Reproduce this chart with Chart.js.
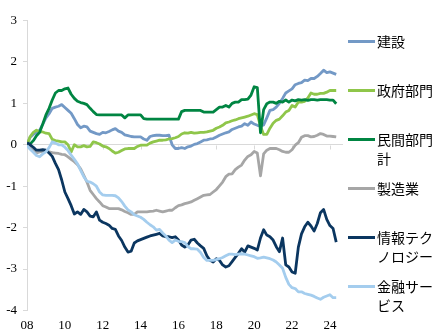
<!DOCTYPE html>
<html><head><meta charset="utf-8">
<script src="https://cdn.jsdelivr.net/npm/chart.js"></script>
<style>
html,body{margin:0;padding:0;background:#fff;}
#wrap{position:relative;width:438px;height:335px;overflow:hidden;}
#c{position:absolute;left:0;top:0;}
.sw{position:absolute;left:348px;width:27px;height:3px;}
.lb{position:absolute;left:377px;font-family:"Noto Sans CJK JP";font-size:14px;line-height:19.5px;white-space:nowrap;color:#000;}
</style></head>
<body><div id="wrap"><canvas id="c" width="438" height="335"></canvas><div id="legend"></div></div>
<script>
const seriesNames = ['建設','政府部門','民間部門計','製造業','情報テクノロジー','金融サービス'];
const legendLines = [['建設'],['政府部門'],['民間部門','計'],['製造業'],['情報テク','ノロジー'],['金融サー','ビス']];
const yTicks = [3,2,1,0,-1,-2,-3,-4];

const construction = [0.00,0.18,0.25,0.30,0.35,0.50,0.65,0.75,0.88,0.91,
 0.93,0.97,0.90,0.83,0.76,0.63,0.49,0.41,0.45,0.43,
 0.33,0.30,0.27,0.25,0.30,0.29,0.32,0.36,0.39,0.33,
 0.30,0.24,0.22,0.20,0.19,0.19,0.19,0.14,0.11,0.20,
 0.22,0.23,0.23,0.22,0.22,0.23,0.00,-0.09,-0.09,-0.07,
 -0.09,-0.05,-0.03,0.01,0.03,0.07,0.11,0.12,0.14,0.15,
 0.19,0.23,0.26,0.29,0.31,0.37,0.40,0.43,0.45,0.51,
 0.47,0.55,0.50,0.47,0.45,0.48,0.65,0.83,0.85,0.91,
 1.00,1.12,1.25,1.30,1.35,1.45,1.48,1.50,1.56,1.55,
 1.60,1.60,1.65,1.72,1.80,1.74,1.76,1.73,1.70];
const government = [0.00,0.20,0.30,0.35,0.31,0.31,0.28,0.27,0.13,0.10,
 0.09,0.07,0.07,0.00,-0.17,0.00,-0.05,-0.05,-0.02,-0.05,
 -0.04,0.07,0.05,0.02,-0.03,-0.05,-0.09,-0.15,-0.20,-0.18,
 -0.14,-0.10,-0.09,-0.09,-0.09,-0.04,-0.01,-0.01,-0.01,0.04,
 0.07,0.09,0.11,0.11,0.12,0.14,0.15,0.17,0.20,0.26,
 0.29,0.28,0.30,0.28,0.29,0.30,0.30,0.31,0.33,0.35,
 0.40,0.43,0.47,0.53,0.55,0.58,0.60,0.63,0.65,0.67,
 0.69,0.72,0.75,0.73,0.45,0.25,0.25,0.40,0.52,0.59,
 0.62,0.70,0.79,0.83,0.95,0.91,1.03,1.03,1.05,1.13,
 1.25,1.22,1.22,1.24,1.24,1.27,1.31,1.31,1.31];
const privateTotal = [0.00,0.02,0.10,0.22,0.30,0.50,0.72,0.88,1.08,1.25,
 1.31,1.31,1.35,1.37,1.22,1.12,1.05,1.02,1.00,0.97,
 0.88,0.80,0.73,0.72,0.72,0.72,0.72,0.72,0.72,0.72,
 0.72,0.65,0.72,0.72,0.72,0.72,0.72,0.63,0.62,0.62,
 0.62,0.62,0.62,0.62,0.62,0.62,0.62,0.62,0.62,0.80,
 0.83,0.83,0.83,0.83,0.83,0.83,0.79,0.79,0.79,0.79,
 0.85,0.91,0.91,0.95,0.91,1.00,1.03,1.03,1.09,1.09,
 1.10,1.20,1.40,1.38,0.29,0.85,0.99,1.03,1.03,1.00,
 1.05,1.03,1.08,1.03,1.08,1.06,1.09,1.08,1.09,1.07,
 1.09,1.09,1.08,1.09,1.09,1.09,1.08,1.08,0.99];
const manufacturing = [0.00,-0.07,-0.14,-0.20,-0.17,-0.16,-0.15,-0.17,-0.19,-0.20,
 -0.21,-0.23,-0.24,-0.29,-0.35,-0.41,-0.48,-0.58,-0.74,-0.90,
 -1.10,-1.20,-1.30,-1.38,-1.47,-1.50,-1.54,-1.54,-1.54,-1.54,
 -1.57,-1.61,-1.64,-1.68,-1.68,-1.62,-1.62,-1.62,-1.62,-1.61,
 -1.60,-1.58,-1.60,-1.62,-1.60,-1.58,-1.58,-1.52,-1.47,-1.45,
 -1.42,-1.40,-1.38,-1.34,-1.30,-1.26,-1.22,-1.21,-1.20,-1.14,
 -1.08,-0.99,-0.90,-0.77,-0.71,-0.70,-0.60,-0.54,-0.49,-0.37,
 -0.28,-0.24,-0.16,-0.20,-0.75,-0.22,-0.13,-0.09,-0.09,-0.09,
 -0.12,-0.16,-0.18,-0.18,-0.12,-0.01,0.05,0.18,0.22,0.22,
 0.19,0.20,0.23,0.27,0.25,0.21,0.21,0.20,0.19];
const infoTech = [0.05,0.00,-0.06,-0.13,-0.13,-0.12,-0.13,-0.20,-0.28,-0.45,
 -0.60,-0.85,-1.14,-1.30,-1.47,-1.67,-1.62,-1.68,-1.56,-1.62,
 -1.72,-1.74,-1.62,-1.82,-1.87,-1.90,-1.94,-2.02,-2.04,-2.20,
 -2.31,-2.47,-2.59,-2.57,-2.37,-2.32,-2.29,-2.26,-2.23,-2.20,
 -2.18,-2.16,-2.14,-2.20,-2.22,-2.22,-2.24,-2.22,-2.30,-2.42,
 -2.47,-2.42,-2.30,-2.28,-2.37,-2.44,-2.50,-2.68,-2.79,-2.83,
 -2.75,-2.79,-2.90,-2.95,-2.92,-2.82,-2.72,-2.62,-2.51,-2.59,
 -2.44,-2.47,-2.50,-2.54,-2.25,-2.05,-2.18,-2.22,-2.30,-2.46,
 -2.58,-2.25,-2.90,-2.95,-3.07,-3.10,-2.47,-2.15,-1.98,-1.87,
 -1.96,-2.08,-1.90,-1.64,-1.56,-1.80,-1.95,-2.02,-2.35];
const finance = [-0.02,-0.11,-0.18,-0.26,-0.29,-0.22,-0.17,-0.07,0.07,0.04,
 0.00,0.00,-0.06,-0.14,-0.25,-0.35,-0.46,-0.62,-0.77,-0.88,
 -0.90,-0.94,-1.00,-1.14,-1.21,-1.22,-1.22,-1.22,-1.23,-1.28,
 -1.37,-1.48,-1.57,-1.62,-1.69,-1.72,-1.75,-1.80,-1.87,-1.93,
 -1.98,-2.06,-2.04,-2.13,-2.20,-2.30,-2.36,-2.30,-2.33,-2.34,
 -2.36,-2.46,-2.51,-2.51,-2.52,-2.60,-2.72,-2.79,-2.79,-2.79,
 -2.77,-2.75,-2.72,-2.68,-2.64,-2.64,-2.65,-2.64,-2.63,-2.64,
 -2.66,-2.68,-2.70,-2.74,-2.73,-2.71,-2.73,-2.75,-2.78,-2.83,
 -2.90,-2.98,-3.20,-3.37,-3.45,-3.47,-3.55,-3.55,-3.59,-3.61,
 -3.63,-3.66,-3.70,-3.73,-3.68,-3.65,-3.62,-3.69,-3.69];

const seriesValues = [construction, government, privateTotal, manufacturing, infoTech, finance];
const colors = ['#7399C6','#8FC64A','#008542','#A6A6A6','#0B3660','#A4CDEE'];

// period labels: every two months from 2008/01
const periods = [];
{ let y = 2008, m = 1; while (periods.length < construction.length) { periods.push(y + '/' + String(m).padStart(2,'0')); m += 2; if (m > 12) { m -= 12; y++; } } }

const datasets = seriesNames.map((name, k) => ({
  label: name,
  data: seriesValues[k].map((v, i) => ({x: i, y: v})),
  borderColor: colors[k],
  backgroundColor: colors[k],
  borderWidth: 2.8,
  pointRadius: 0,
  tension: 0,
  borderJoinStyle: 'round',
  order: seriesNames.length - k
}));

const zeroTicks = {
  id: 'zeroTicks',
  beforeDatasetsDraw(chart) {
    const {ctx, scales: {x, y}} = chart;
    const y0 = Math.round(y.getPixelForValue(0)) + 0.5;
    ctx.save();
    ctx.strokeStyle = '#d9d9d9';
    ctx.lineWidth = 1;
    x.ticks.forEach(t => {
      const px = Math.round(x.getPixelForValue(t.value)) + 0.5;
      ctx.beginPath(); ctx.moveTo(px, y0); ctx.lineTo(px, y0 + 4); ctx.stroke();
    });
    ctx.restore();
  }
};

new Chart(document.getElementById('c'), {
  type: 'line',
  data: { datasets },
  options: {
    responsive: false,
    animation: false,
    devicePixelRatio: 1,
    layout: { padding: { top: 20.5, right: 95, bottom: 0, left: 0 } },
    plugins: { legend: { display: false }, tooltip: { enabled: false } },
    scales: {
      x: {
        type: 'linear',
        min: 0,
        max: 100.15,
        afterFit(s) { s.height = 24.5; },
        grid: { display: false, drawTicks: false },
        border: { display: false },
        ticks: {
          stepSize: 12,
          includeBounds: false,
          autoSkip: false,
          maxRotation: 0,
          padding: 7,
          color: '#000',
          font: { family: '"Liberation Serif"', size: 13 },
          callback: v => (periods[v] ? periods[v].slice(2, 4) : '')
        }
      },
      y: {
        min: -4,
        max: 3,
        afterFit(s) { s.width = 27; },
        afterBuildTicks(s) { s.ticks = yTicks.map(v => ({value: v})); },
        grid: {
          color: c => (c.tick && c.tick.value === 0 ? '#d9d9d9' : 'rgba(0,0,0,0)'),
          tickColor: '#d9d9d9',
          tickLength: 4,
          lineWidth: 1
        },
        border: { display: true, color: '#d9d9d9', width: 1 },
        ticks: {
          padding: 6,
          color: '#000',
          font: { family: '"Liberation Serif"', size: 13 }
        }
      }
    }
  },
  plugins: [zeroTicks]
});

// legend
const lg = document.getElementById('legend');
legendLines.forEach((lines, k) => {
  const cy = 41.5 + 49 * k;
  const sw = document.createElement('div');
  sw.className = 'sw';
  sw.style.top = (cy - 1.5) + 'px';
  sw.style.background = colors[k];
  lg.appendChild(sw);
  const lb = document.createElement('div');
  lb.className = 'lb';
  lb.style.top = (cy - 9.75) + 'px';
  lb.innerHTML = lines.join('<br>');
  lb.title = seriesNames[k];
  lg.appendChild(lb);
});
</script>
</body></html>
